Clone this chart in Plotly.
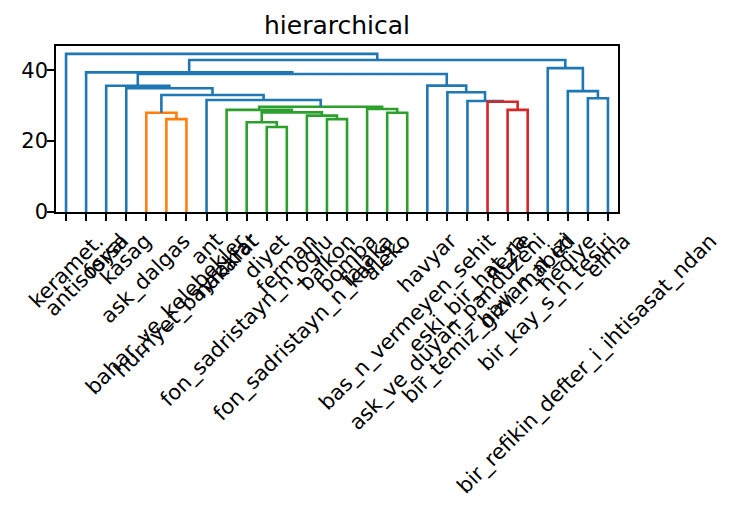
import plotly.graph_objects as go

# leaf labels, left to right as they appear under the dendrogram
labels = [
    "keramet.", "antisosyal", "forsa", "kasag", "ask_dalgas",
    "bahar_ve_kelebekler", "hurriyet_bayraklar", "ant", "nakarat",
    "fon_sadristayn_n_oglu", "diyet", "ferman", "fon_sadristayn_n_kar_s_",
    "balkon", "bomba", "falaka", "aleko", "bas_n_vermeyen_sehit", "havyar",
    "ask_ve_duyan_panduzeni", "eski_bir_hat_ra", "bir_temiz_havan_n_izi",
    "nezle", "gizli_mabed", "bir_kay_s_n_tesiri", "hediye",
    "bir_refikin_defter_i_ihtisasat_ndan", "elma",
]

# merges: node 28 + k joins merge_left[k] and merge_right[k] at merge_height[k]
merge_left = [5, 4, 10, 9, 13, 12, 31, 8, 16, 15, 35, 7, 29, 3, 2,
              22, 21, 20, 19, 18, 42, 1, 26, 25, 24, 49, 0]
merge_right = [6, 28, 11, 30, 14, 32, 33, 34, 17, 36, 37, 38, 39, 40, 41,
               23, 43, 44, 45, 46, 47, 48, 27, 50, 51, 52, 53]
merge_height = [26.2, 28.0, 24.0, 25.3, 26.2, 27.2, 28.1, 28.8, 28.0, 29.05,
                29.7, 31.6, 33.0, 34.9, 35.6, 28.8, 31.1, 31.3, 33.8, 35.65,
                38.95, 39.4, 32.1, 34.1, 40.6, 42.9, 44.6]

above_color = "#1f77b4"
cluster_colors = ["#ff7f0e", "#2ca02c", "#d62728", "#9467bd"]

n = len(labels)
leaf_x = [5 + 10 * i for i in range(n)]
node_x = list(leaf_x)
node_y = [0.0] * n
for a, b, h in zip(merge_left, merge_right, merge_height):
    node_x.append((node_x[a] + node_x[b]) / 2)
    node_y.append(h)

threshold = 0.7 * max(merge_height)

# colour links: clusters below the threshold get their own colour, left to right
link_color = {}
next_color = 0


def paint(node, color):
    if node < n:
        return
    k = node - n
    link_color[k] = color
    paint(merge_left[k], color)
    paint(merge_right[k], color)


def walk(node):
    global next_color
    if node < n:
        return
    k = node - n
    if merge_height[k] < threshold:
        paint(node, cluster_colors[next_color % len(cluster_colors)])
        next_color += 1
        return
    link_color[k] = above_color
    walk(merge_left[k])
    walk(merge_right[k])


walk(n + len(merge_height) - 1)

paths = {}
for k, (a, b, h) in enumerate(zip(merge_left, merge_right, merge_height)):
    xs, ys = paths.setdefault(link_color[k], ([], []))
    xs += [node_x[a], node_x[a], node_x[b], node_x[b], None]
    ys += [node_y[a], h, h, node_y[b], None]

fig = go.Figure()
for color, (xs, ys) in paths.items():
    fig.add_trace(
        go.Scatter(
            x=xs,
            y=ys,
            mode="lines",
            line=dict(color=color, width=2.6),
            hoverinfo="skip",
            showlegend=False,
        )
    )

for x, text in zip(leaf_x, labels):
    fig.add_annotation(
        x=x,
        y=0,
        yref="paper",
        yshift=-14,
        text=text,
        textangle=-45,
        xanchor="center",
        yanchor="top",
        showarrow=False,
        font=dict(size=21, color="black"),
    )

axis_style = dict(
    showline=True,
    mirror=True,
    linecolor="black",
    linewidth=1.6,
    ticks="outside",
    ticklen=7,
    tickwidth=1.6,
    tickcolor="black",
    showgrid=False,
    zeroline=False,
    automargin=False,
)

# the page body adds an 8px offset, so margins are shifted to compensate
fig.update_layout(
    width=735,
    height=507,
    title=dict(
        text="hierarchical",
        x=0.5,
        xref="paper",
        y=1 - 17 / 507,
        yanchor="middle",
        font=dict(size=25, color="black"),
    ),
    font=dict(family="DejaVu Sans", color="black"),
    plot_bgcolor="white",
    paper_bgcolor="white",
    margin=dict(l=48, r=125, t=38, b=303),
    xaxis=dict(range=[0, 10 * n], tickvals=leaf_x, showticklabels=False, **axis_style),
    yaxis=dict(
        range=[0, 1.05 * max(merge_height)],
        tickvals=[0, 20, 40],
        tickfont=dict(size=21),
        ticklabelstandoff=-5,
        **axis_style,
    ),
)

fig.write_html("out.html")
